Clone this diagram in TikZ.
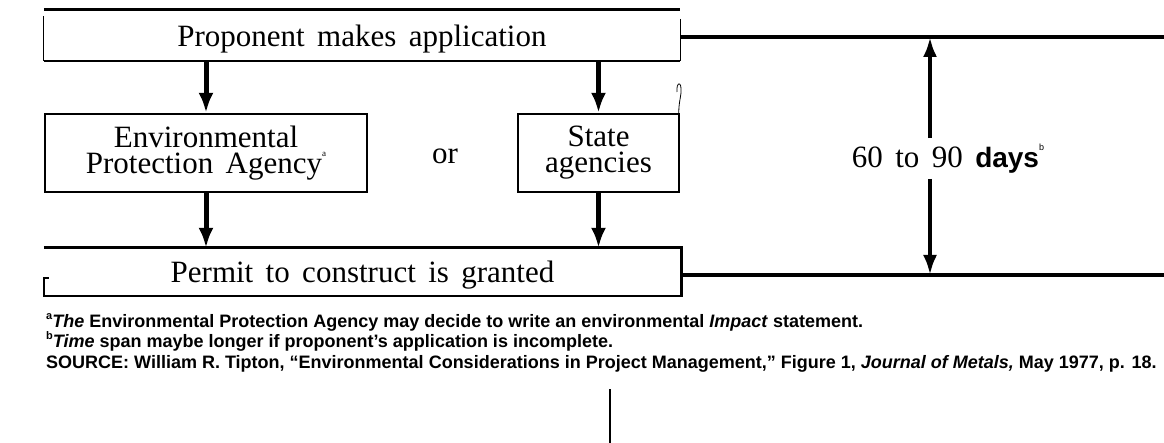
\documentclass[tikz,border=0pt]{standalone}
\usepackage{fontspec}
\usepackage{tikz}
\usetikzlibrary{arrows.meta}
\setmainfont{Liberation Serif}
\newfontfamily\daysfont{Liberation Sans}
\newfontfamily\notefont{Liberation Sans}
\newcommand{\tinysup}[1]{\raisebox{1.2ex}{\fontsize{9}{9}\selectfont #1}}
\newcommand{\notesup}[1]{\raisebox{0.9ex}{\fontsize{11}{11}\selectfont #1}}
\newcommand{\bigserif}{\fontsize{31}{26}\selectfont\spaceskip=0.4em plus 0.1em}

\begin{document}
\begin{tikzpicture}[x=1pt,y=-1pt]
\tikzstyle{Block}=[draw, line width=2.4pt, inner sep=0pt, align=center, font=\bigserif];
\tikzstyle{edge}=[line width=2.6pt, line join=miter];
\tikzstyle{side}=[line width=1pt];
\tikzstyle{rule}=[line width=4.5pt];
\tikzstyle{seq}=[line width=5pt, -{Latex[length=20pt,width=15pt]}];
\tikzstyle{dim}=[line width=4.5pt, -{Latex[length=20pt,width=14pt]}];
\tikzstyle{Note}=[anchor=base west, inner sep=0pt, font=\notefont\bfseries\fontsize{18}{20}\selectfont];
\useasboundingbox (0,0) rectangle (1164,443);
% boxes
\node [Block,draw=none,minimum width=634pt,minimum height=49pt,text depth=0pt] (prop) at (362,35.5) {Proponent makes application};
\draw [edge] (prop.north west) -- (prop.north east);
\draw [edge] (prop.south west) -- (prop.south east);
\draw [side] (prop.north west) ++(0,6) -- (prop.south west);
\draw [side] (prop.north east) ++(0,9) -- (prop.south east);
\node [Block,minimum width=322pt,minimum height=78pt] (epa) at (206,153) {Environmental\\Protection Agency\tinysup{a}};
\node [Block,minimum width=161pt,minimum height=78pt] (state) at (598.5,153) {State\\agencies};
\node [font=\bigserif, inner sep=0pt] (or) at (445,156) {or};
\node [Block,draw=none,minimum width=635pt,minimum height=46pt,text depth=0pt] (permit) at (362.5,272) {Permit to construct is granted};
\draw [edge] (permit.north west) -- (permit.north east) -- (permit.south east) -- (permit.south west) -- ++(0,-18) -- ++(5,0);
% flow
\draw [seq] (epa.north |- prop.south) -- (epa.north);
\draw [seq] (state.north |- prop.south) -- (state.north);
\draw [seq] (epa.south) -- (epa.south |- permit.north);
\draw [seq] (state.south) -- (state.south |- permit.north);
% time span
\coordinate (topR) at (1164,37);
\coordinate (botR) at (1164,275);
\coordinate (dimtop) at (930,37);
\coordinate (dimbot) at (930,275);
\draw [rule] (prop.east |- topR) -- (topR);
\draw [rule] (permit.east |- botR) -- (botR);
\node [inner sep=5.5pt, font=\bigserif] (days) at (948,158.5) {60 to 90 {\daysfont\bfseries\fontsize{28}{26}\selectfont days}\tinysup{\daysfont b}};
\draw [dim] (days.north -| dimtop) -- (dimtop);
\draw [dim] (days.south -| dimbot) -- (dimbot);
% stray mark by state box
\draw [line width=0.8pt] (677,92) .. controls (676,82) and (682,80) .. (681,93) .. controls (680,101) and (678,106) .. (679,122);
% notes
\node [Note] (note1) at (46,328) {\notesup{a}\textit{The} Environmental Protection Agency may decide to write an environmental \textit{Impact} statement.};
\node [Note] (note2) at (46,348) {\notesup{b}\textit{Time} span maybe longer if proponent’s application is incomplete.};
\node [Note] (note3) at (46,369) {SOURCE: William R. Tipton, “Environmental Considerations in Project Management,” Figure 1, \textit{Journal of Metals,} May 1977, p. 18.};
\coordinate (stub1) at (610,389);
\coordinate (stub2) at (610,443);
\draw [line width=2.6pt] (stub1) -- (stub2);
\end{tikzpicture}
\end{document}
